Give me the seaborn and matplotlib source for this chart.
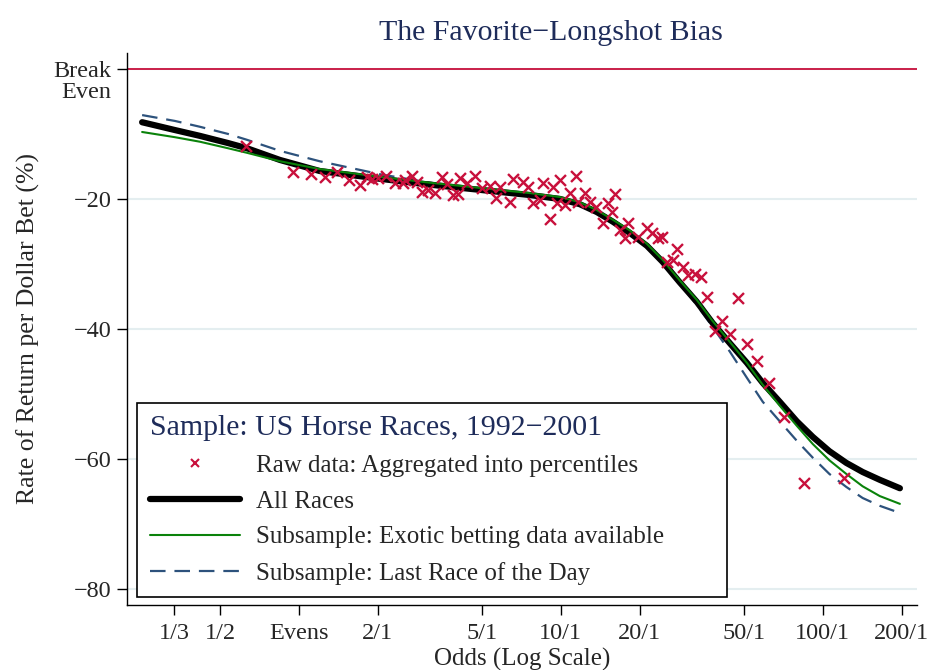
import seaborn as sns
import matplotlib.pyplot as plt
import matplotlib.transforms as mtransforms
from matplotlib.lines import Line2D
import pandas as pd

# Raw data: aggregated into percentiles (odds, rate of return %)
raw_odds = [0.63, 0.95, 1.11, 1.26, 1.40, 1.55, 1.71, 1.82, 1.90, 2.00,
            2.15, 2.33, 2.50, 2.54, 2.70, 2.82, 2.95, 3.11, 3.30, 3.51,
            3.67, 3.87, 4.04, 4.12, 4.38, 4.70, 4.99, 5.36, 5.65, 5.85,
            6.39, 6.56, 7.17, 7.48, 7.82, 8.31, 8.54, 9.08, 9.32, 9.66,
            9.91, 10.4, 10.8, 11.4, 11.6, 12.4, 12.9, 13.6, 14.5, 15.1,
            15.7, 16.1, 16.8, 17.6, 18.0, 19.7, 21.3, 22.3, 23.5, 24.3,
            25.4, 26.7, 27.7, 29.2, 30.5, 32.5, 34.2, 36.1, 38.7, 41.2,
            44.2, 47.4, 51.3, 56.0, 62.2, 71.0, 84.6, 121.0]
raw_return = [-11.9, -15.9, -16.2, -16.6, -15.9, -17.1, -17.9, -16.6, -16.9, -16.8,
              -16.5, -17.6, -17.6, -17.1, -16.5, -17.4, -18.9, -18.6, -19.1, -16.6,
              -17.7, -19.4, -19.2, -16.8, -17.6, -16.5, -18.3, -18.0, -19.9, -18.2,
              -20.5, -16.9, -17.4, -18.2, -20.6, -20.2, -17.6, -23.1, -18.2, -20.6,
              -17.1, -20.9, -19.1, -16.5, -20.5, -19.1, -20.5, -21.3, -23.7, -20.6,
              -22.0, -19.3, -24.8, -26.0, -23.7, -25.9, -24.5, -25.2, -26.0, -25.9,
              -29.7, -29.4, -27.7, -30.5, -31.7, -31.6, -32.0, -35.1, -40.3, -38.8,
              -40.8, -35.2, -42.3, -44.9, -48.3, -53.5, -63.7, -62.9]

# Smoothed fits, read along a common set of odds
fit_odds = [0.252, 0.336, 0.419, 0.536, 0.633, 0.846, 1.20, 2.04, 3.16, 4.91,
            7.62, 9.91, 11.8, 13.7, 15.8, 18.3, 21.3, 24.5, 28.4, 33.0,
            38.0, 44.2, 51.3, 59.0, 68.5, 79.6, 91.6, 106, 123, 142, 165, 197]
all_races = [-8.2, -9.4, -10.3, -11.4, -12.2, -14.0, -15.7, -16.9, -17.8, -18.6,
             -19.4, -20.0, -20.8, -22.0, -23.5, -25.2, -27.2, -29.7, -32.8, -35.8,
             -39.1, -42.2, -45.2, -48.3, -51.2, -54.2, -56.6, -58.8, -60.6, -62.0, -63.2, -64.5]
exotic = [-9.7, -10.5, -11.2, -12.2, -12.9, -14.2, -15.4, -16.6, -17.5, -18.3,
          -19.1, -19.7, -20.5, -21.7, -23.2, -24.8, -26.9, -29.4, -32.5, -35.5,
          -38.8, -42.0, -45.2, -48.6, -51.8, -54.9, -57.7, -60.2, -62.3, -64.2, -65.7, -66.9]
last_race = [-7.1, -8.0, -8.9, -10.0, -10.9, -12.6, -14.2, -16.2, -17.5, -18.5,
             -19.2, -19.8, -20.6, -21.8, -23.4, -25.1, -27.1, -29.7, -32.9, -36.3,
             -39.7, -43.5, -47.5, -51.2, -54.2, -57.2, -59.8, -62.3, -64.3, -66.0, -67.2, -68.3]

x_ticks = [1 / 3, 1 / 2, 1, 2, 5, 10, 20, 50, 100, 200]
x_labels = ["1/3", "1/2", "Evens", "2/1", "5/1", "10/1", "20/1", "50/1", "100/1", "200/1"]
y_ticks = [0, -20, -40, -60, -80]
y_labels = ["Break\nEven", "\u221220", "\u221240", "\u221260", "\u221280"]

RED = "#c8103c"
GREEN = "#0a820a"
NAVY_DASH = "#2d527c"
NAVY_TEXT = "#1e2c5a"

sns.set_theme(style="ticks")
plt.rcParams["font.family"] = ["Liberation Serif", "DejaVu Serif"]

raw = pd.DataFrame({"odds": raw_odds, "ret": raw_return})
fits = pd.DataFrame({"odds": fit_odds, "all": all_races,
                     "exotic": exotic, "last": last_race})

fig = plt.figure(figsize=(9.28, 6.70), dpi=100)
ax = fig.add_axes([0.1369, 0.097, 0.851, 0.824])
ax.set_xscale("log")

# Grid and break-even line
ax.yaxis.grid(True, color="#e4eef0", lw=1.5)
ax.set_axisbelow(True)
ax.axhline(0, color=RED, lw=1.3, zorder=1)

sns.lineplot(data=fits, x="odds", y="last", ax=ax, color=NAVY_DASH, lw=1.6,
             linestyle=(0, (7, 4)), zorder=2)
sns.lineplot(data=fits, x="odds", y="all", ax=ax, color="black", lw=4.5, zorder=3)
sns.lineplot(data=fits, x="odds", y="exotic", ax=ax, color=GREEN, lw=1.5, zorder=4)
sns.scatterplot(data=raw, x="odds", y="ret", ax=ax, marker="x", color=RED,
                s=62, linewidth=1.7, zorder=5)

ax.set_xlim(0.2207, 228.5)
ax.set_ylim(-82.46, 2.46)
ax.set_xticks(x_ticks)
ax.set_xticklabels(x_labels)
ax.minorticks_off()
ax.set_yticks(y_ticks)
ax.set_yticklabels(y_labels)
ax.tick_params(axis="both", direction="out", length=7, width=1,
               color="black", labelsize=17.5, pad=4)
ax.tick_params(axis="x", pad=6)

# "Break Even" sits a little below its tick
be = ax.get_yticklabels()[0]
be.set_linespacing(0.95)
be.set_transform(be.get_transform() +
                 mtransforms.ScaledTranslation(0, -0.11, fig.dpi_scale_trans))

sns.despine(ax=ax)
for s in ["left", "bottom"]:
    ax.spines[s].set_color("black")
    ax.spines[s].set_linewidth(1)

ax.set_title("The Favorite\u2212Longshot Bias", fontsize=21.5, color=NAVY_TEXT,
             pad=9, x=0.537)
ax.set_xlabel("Odds (Log Scale)", fontsize=18, labelpad=3)
ax.set_ylabel("Rate of Return per Dollar Bet (%)", fontsize=18.5, labelpad=10)

handles = [
    Line2D([], [], marker="x", linestyle="none", color=RED, markersize=6,
           markeredgewidth=1.5),
    Line2D([], [], color="black", lw=4.5),
    Line2D([], [], color=GREEN, lw=1.5),
    Line2D([], [], color=NAVY_DASH, lw=1.6, linestyle=(0, (7, 4))),
]
labels = ["Raw data: Aggregated into percentiles", "All Races",
          "Subsample: Exotic betting data available",
          "Subsample: Last Race of the Day"]
leg = ax.legend(handles, labels, title="Sample: US Horse Races, 1992\u22122001",
                loc="lower left", bbox_to_anchor=(0.0127, 0.0145, 0.747, 0.3),
                mode="expand", borderaxespad=0,
                fontsize=18, title_fontsize=21.5, alignment="left",
                frameon=True, fancybox=False, framealpha=1, edgecolor="black",
                handlelength=3.6, handletextpad=0.65, labelspacing=0.53,
                borderpad=0.5)
leg.get_title().set_color(NAVY_TEXT)
leg.get_frame().set_linewidth(1.2)

fig.savefig("out.png", dpi=100)
